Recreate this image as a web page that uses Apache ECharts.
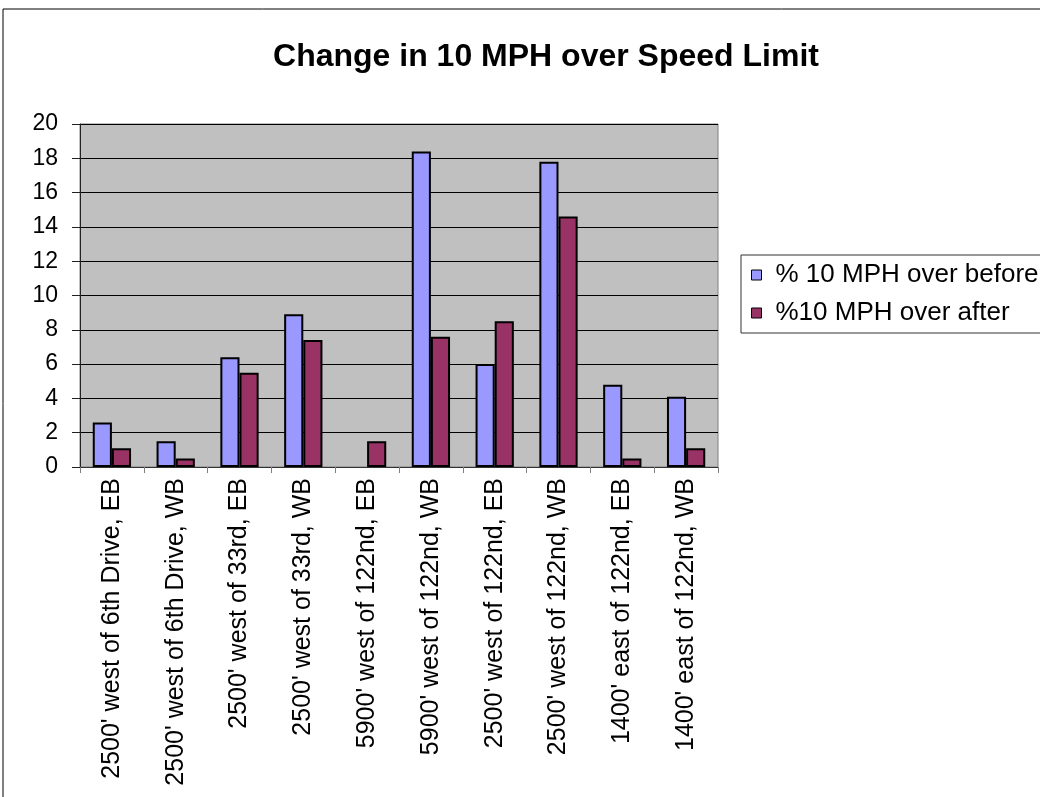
<!DOCTYPE html>
<html>
<head>
<meta charset="utf-8">
<script src="https://cdn.jsdelivr.net/npm/echarts@6/dist/echarts.min.js"></script>
<style>html,body{margin:0;padding:0;background:#fff;}#c{width:1040px;height:797px;}</style>
</head>
<body>
<div id="c"></div>
<script>
const categories = [
  "2500' west of 6th Drive, EB",
  "2500' west of 6th Drive, WB",
  "2500' west of 33rd, EB",
  "2500' west of 33rd, WB",
  "5900' west of 122nd, EB",
  "5900' west of 122nd, WB",
  "2500' west of 122nd, EB",
  "2500' west of 122nd, WB",
  "1400' east of 122nd, EB",
  "1400' east of 122nd, WB"
];
const seriesNames = ["% 10 MPH over before", "%10 MPH over after"];
const beforeValues = [2.6, 1.5, 6.4, 8.9, 0, 18.4, 6.0, 17.8, 4.8, 4.1];
const afterValues  = [1.1, 0.5, 5.5, 7.4, 1.5, 7.6, 8.5, 14.6, 0.5, 1.1];
const yTicks = [0, 2, 4, 6, 8, 10, 12, 14, 16, 18, 20];

const FONT = "'Liberation Sans', Arial, sans-serif";
const chart = echarts.init(document.getElementById('c'), null, {renderer: 'canvas'});

function barData(values) {
  // zero-height bars get no outline (as in the reference)
  return values.map(v => v === 0 ? {value: v, itemStyle: {borderWidth: 0}} : v);
}

chart.setOption({
  animation: false,
  backgroundColor: '#ffffff',
  textStyle: {fontFamily: FONT, color: '#000'},
  graphic: [{
    type: 'rect', z: -10, silent: true,
    shape: {x: 3, y: 9, width: 1100, height: 1000},
    style: {fill: 'none', stroke: '#000', lineWidth: 1}
  }],
  title: {
    text: 'Change in 10 MPH over Speed Limit',
    left: 546, top: 36, textAlign: 'center',
    textStyle: {fontFamily: FONT, fontWeight: 'bold', fontSize: 32, color: '#000'}
  },
  legend: {
    orient: 'vertical',
    left: 741, top: 255,
    padding: [7, 10, 7, 10],
    itemGap: 12,
    itemWidth: 10, itemHeight: 10,
    icon: 'rect',
    borderColor: '#333', borderWidth: 1,
    backgroundColor: '#fff',
    itemStyle: {borderColor: '#000', borderWidth: 1},
    textStyle: {fontFamily: FONT, fontSize: 26, color: '#000', lineHeight: 26, padding: [0, 0, 0, 9]},
    data: seriesNames
  },
  grid: {
    left: 80, right: 322, top: 124, bottom: 330,
    show: true, backgroundColor: '#C0C0C0', borderColor: '#808080', borderWidth: 1,
    containLabel: false
  },
  xAxis: {
    type: 'category',
    data: categories,
    axisLine: {lineStyle: {color: '#333', width: 1}},
    axisTick: {show: true, length: 6, lineStyle: {color: '#808080'}},
    axisLabel: {rotate: 90, margin: 11, fontFamily: FONT, fontSize: 25, color: '#000', interval: 0}
  },
  yAxis: {
    type: 'value',
    min: yTicks[0], max: yTicks[yTicks.length - 1], interval: 2,
    axisLine: {show: true, lineStyle: {color: '#222', width: 1}},
    axisTick: {show: true, length: 8, lineStyle: {color: '#222'}},
    splitLine: {show: true, lineStyle: {color: '#000', width: 1}},
    axisLabel: {margin: 22, fontFamily: FONT, fontSize: 23, color: '#000'}
  },
  series: [
    {
      name: seriesNames[0], type: 'bar', data: barData(beforeValues),
      barGap: '0%', barCategoryGap: '40%',
      itemStyle: {color: '#9999FF', borderColor: '#000', borderWidth: 2}
    },
    {
      name: seriesNames[1], type: 'bar', data: barData(afterValues),
      barGap: '0%', barCategoryGap: '40%',
      itemStyle: {color: '#993366', borderColor: '#000', borderWidth: 2}
    }
  ]
});
// shift title so its centre sits at x≈546 regardless of textAlign handling
chart.setOption({title: {left: 541}});
</script>
</body>
</html>
